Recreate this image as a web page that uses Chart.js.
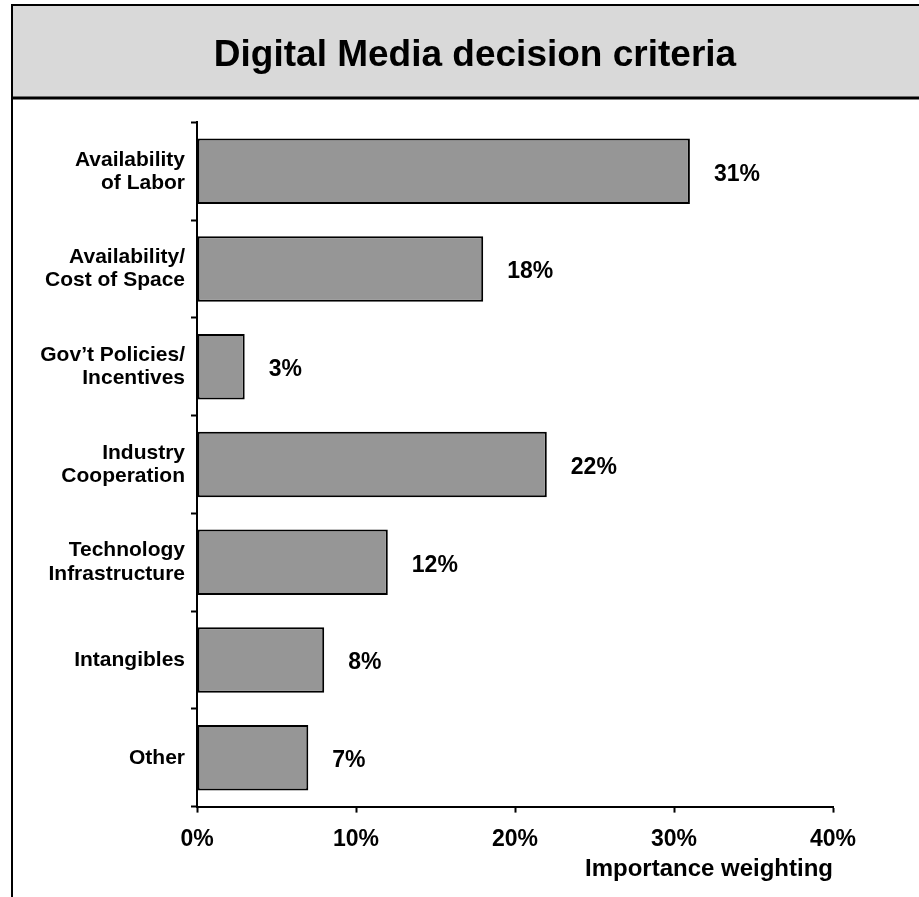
<!DOCTYPE html>
<html>
<head>
<meta charset="utf-8">
<script src="https://cdn.jsdelivr.net/npm/chart.js@4.4.1/dist/chart.umd.min.js"></script>
<style>
  html, body { margin: 0; padding: 0; background: #fff; overflow: hidden; }
  #chart { display: block; }
</style>
</head>
<body>
<canvas id="chart" width="950" height="897"></canvas>
<script>
// chart data
var chartTitle = 'Digital Media decision criteria';
var axisTitle = 'Importance weighting';
var categories = [
    ['Availability', 'of Labor'],
    ['Availability/', 'Cost of Space'],
    ['Gov\u2019t Policies/', 'Incentives'],
    ['Industry', 'Cooperation'],
    ['Technology', 'Infrastructure'],
    ['Intangibles'],
    ['Other']
];
var weights = [31, 18, 3, 22, 12, 8, 7];
var xTicks = [0, 10, 20, 30, 40];

var FONT = '"Liberation Sans", Arial, sans-serif';

// header box + frame lines
var framePlugin = {
    id: 'frame',
    beforeDraw: function(chart) {
        var ctx = chart.ctx;
        ctx.save();
        ctx.fillStyle = '#d9d9d9';
        ctx.fillRect(12, 5, chart.width, 93);
        ctx.strokeStyle = '#000';
        ctx.lineWidth = 2;
        ctx.beginPath();
        ctx.moveTo(12, 5);
        ctx.lineTo(chart.width, 5);
        ctx.moveTo(12, 4);
        ctx.lineTo(12, chart.height);
        ctx.stroke();
        ctx.lineWidth = 3;
        ctx.beginPath();
        ctx.moveTo(12, 98);
        ctx.lineTo(chart.width, 98);
        ctx.stroke();
        ctx.restore();
    }
};

// value labels to the right of each bar
var valueLabels = {
    id: 'valueLabels',
    afterDatasetsDraw: function(chart) {
        var ctx = chart.ctx;
        var meta = chart.getDatasetMeta(0);
        ctx.save();
        ctx.font = 'bold 23px ' + FONT;
        ctx.fillStyle = '#000';
        ctx.textAlign = 'left';
        ctx.textBaseline = 'middle';
        meta.data.forEach(function(bar, i) {
            ctx.fillText(weights[i] + '%', bar.x + 24, bar.y + 3);
        });
        ctx.restore();
    }
};

new Chart(document.getElementById('chart'), {
    type: 'bar',
    data: {
        labels: categories,
        datasets: [{
            data: weights,
            backgroundColor: '#969696',
            borderColor: '#000',
            borderWidth: 2,
            borderSkipped: false,
            barPercentage: 0.67,
            categoryPercentage: 1
        }]
    },
    options: {
        indexAxis: 'y',
        responsive: false,
        animation: false,
        layout: { padding: { left: 0, right: 0, top: 0, bottom: 13 } },
        plugins: {
            legend: { display: false },
            tooltip: { enabled: false },
            title: {
                display: true,
                text: chartTitle,
                color: '#000',
                font: { family: FONT, size: 37, weight: 'bold', lineHeight: 1.2 },
                padding: { top: 34, bottom: 44 }
            }
        },
        scales: {
            y: {
                afterFit: function(scale) { scale.width = 197; },
                grid: {
                    drawOnChartArea: false,
                    tickLength: 6,
                    tickWidth: 2,
                    tickColor: '#000'
                },
                border: { display: true, color: '#000', width: 2 },
                ticks: {
                    color: '#000',
                    padding: 6,
                    font: { family: FONT, size: 21, weight: 'bold', lineHeight: 1.1 }
                }
            },
            // empty right-hand axis keeps the plot inside the frame
            yRight: {
                type: 'category',
                position: 'right',
                afterFit: function(scale) { scale.width = 117; },
                grid: { display: false },
                border: { display: false },
                ticks: { display: false }
            },
            x: {
                min: 0,
                max: 40,
                afterBuildTicks: function(scale) {
                    scale.ticks = xTicks.map(function(v) { return { value: v }; });
                },
                grid: {
                    drawOnChartArea: false,
                    tickLength: 6,
                    tickWidth: 2,
                    tickColor: '#000'
                },
                border: { display: true, color: '#000', width: 2 },
                ticks: {
                    color: '#000',
                    padding: 13,
                    maxRotation: 0,
                    font: { family: FONT, size: 23, weight: 'bold', lineHeight: 1.2 },
                    callback: function(v) { return v + '%'; }
                },
                title: {
                    display: true,
                    text: axisTitle,
                    align: 'end',
                    color: '#000',
                    font: { family: FONT, size: 24, weight: 'bold', lineHeight: 1.2 },
                    padding: { top: -11, bottom: 0 }
                }
            }
        }
    },
    plugins: [framePlugin, valueLabels]
});
</script>
</body>
</html>
